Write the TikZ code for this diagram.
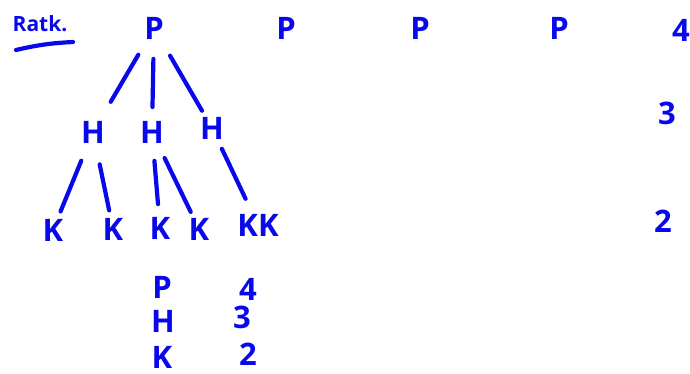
\documentclass[tikz,border=0pt]{standalone}
\usepackage{fontspec}
\setmainfont{Open Sans}
\definecolor{ink}{RGB}{8,8,235}
\begin{document}
\begin{tikzpicture}[x=1pt,y=-1pt,
  lbl/.style={text=ink,font=\fontsize{31}{31}\selectfont\bfseries,inner sep=0pt},
  small/.style={text=ink,font=\fontsize{21}{21}\selectfont\bfseries,inner sep=0pt},
  edge/.style={draw=ink,line width=4.2pt,line cap=round}]
\useasboundingbox (0,0) rectangle (690,374);
\node[small] (title) at (40,24) {Ratk.};
\coordinate (ul1) at (16,50);
\coordinate (ul2) at (73,42);
\draw[edge] (ul1) to[bend left=5] (ul2);

\node[lbl] (p1) at (154,28) {P};
\node[lbl] (p2) at (286,28) {P};
\node[lbl] (p3) at (420,28) {P};
\node[lbl] (p4) at (559,28) {P};
\node[lbl] (n4) at (681,30) {4};
\node[lbl] (n3) at (667,113) {3};
\node[lbl] (n2) at (663,221) {2};

\node[lbl] (h1) at (93,132) {H};
\node[lbl] (h2) at (152,132) {H};
\node[lbl] (h3) at (212,128) {H};

\node[lbl] (k1) at (53,230) {K};
\node[lbl] (k2) at (113,229) {K};
\node[lbl] (k3) at (160,228) {K};
\node[lbl] (k4) at (199,229) {K};
\node[lbl] (kk) at (258,225) {KK};

\draw[edge,shorten <=31pt,shorten >=35pt] (p1.center) -- (h1.center);
\draw[edge,shorten <=31pt,shorten >=25pt] (p1.center) -- (h2.center);
\draw[edge,shorten <=32pt,shorten >=20pt] (p1.center) -- (h3.center);
\draw[edge,shorten <=31pt,shorten >=20pt] (h1.center) -- (k1.center);
\draw[edge,shorten <=33pt,shorten >=19pt] (h1.center) -- (k2.center);
\draw[edge,shorten <=29pt,shorten >=24pt] (h2.center) -- (k3.center);
\draw[edge,shorten <=29pt,shorten >=19pt] (h2.center) -- (k4.center);
\draw[edge,shorten <=23pt,shorten >=29pt] (h3.center) -- (kk.center);

\node[lbl] (lp) at (162,287) {P};
\node[lbl] (lh) at (163,321) {H};
\node[lbl] (lk) at (162,357) {K};
\node[lbl] (v4) at (248,289) {4};
\node[lbl] (v3) at (242,317) {3};
\node[lbl] (v2) at (248,354) {2};
\end{tikzpicture}
\end{document}
